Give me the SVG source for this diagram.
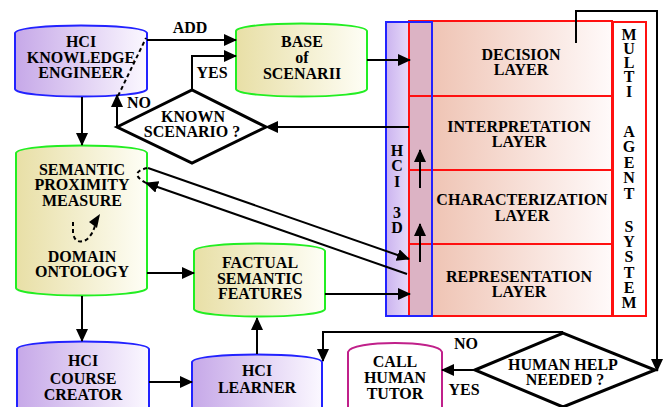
<svg xmlns="http://www.w3.org/2000/svg" width="667" height="407" viewBox="0 0 667 407">
<defs>
<linearGradient id="gP" x1="0" y1="0" x2="1" y2="0"><stop offset="0" stop-color="#c6a8e8"/><stop offset="1" stop-color="#fbf8ff"/></linearGradient>
<linearGradient id="gY" x1="0" y1="0" x2="1" y2="0"><stop offset="0" stop-color="#e8dfa6"/><stop offset="1" stop-color="#fefef6"/></linearGradient>
<linearGradient id="gL" x1="0" y1="0" x2="1" y2="0"><stop offset="0" stop-color="#efc4b4"/><stop offset="1" stop-color="#fffafa"/></linearGradient>
<linearGradient id="gH" x1="0" y1="0" x2="1" y2="0"><stop offset="0" stop-color="#cbb3ef"/><stop offset="1" stop-color="#e6daf9"/></linearGradient>
<marker id="ah" markerUnits="userSpaceOnUse" markerWidth="13" markerHeight="12" refX="12" refY="6" orient="auto"><path d="M0,0 L13,6 L0,12 Z" fill="#000"/></marker>
</defs>
<style>
.t{font-family:"Liberation Serif","Times New Roman",serif;font-weight:bold;font-size:16px;text-anchor:middle;fill:#000}
.c{stroke:#000;stroke-width:2;fill:none}
.a{marker-end:url(#ah)}
.d{stroke-dasharray:4,3}
.bl{stroke:#2222ff;stroke-width:2;fill:url(#gP)}
.gr{stroke:#22ee22;stroke-width:2;fill:url(#gY)}
.dm{stroke:#000;stroke-width:3;fill:#fff;stroke-linejoin:miter}
</style>
<rect width="667" height="407" fill="#fff"/>

<g id="hci3d">
<rect x="386" y="22" width="23" height="294" fill="url(#gH)"/>
<rect x="409" y="22" width="23" height="294" fill="#dcb3c4"/>
</g>
<g id="layers">
<rect x="432" y="21" width="180" height="295" fill="url(#gL)"/>
<rect x="409" y="21" width="203" height="295" fill="none" stroke="#ff1010" stroke-width="2"/>
<path d="M409,96 H612 M409,170 H612 M409,244 H612" stroke="#ff1010" stroke-width="2"/>
<text class="t" x="521" y="60">DECISION</text><text class="t" x="521" y="75">LAYER</text>
<text class="t" x="519" y="132">INTERPRETATION</text><text class="t" x="519" y="147">LAYER</text>
<text class="t" x="522" y="205">CHARACTERIZATION</text><text class="t" x="522" y="221">LAYER</text>
<text class="t" x="519" y="282">REPRESENTATION</text><text class="t" x="519" y="297">LAYER</text>
</g>
<g id="hci3d-frame">
<rect x="386" y="22" width="46" height="294" fill="none" stroke="#2222ff" stroke-width="2"/>
<text class="t" x="397"><tspan x="397" y="156">H</tspan><tspan x="397" y="171">C</tspan><tspan x="397" y="187">I</tspan><tspan x="397" y="218">3</tspan><tspan x="397" y="233">D</tspan></text>
</g>
<g id="mas">
<rect x="613" y="22" width="33" height="294" fill="#fff" stroke="#ff1010" stroke-width="2"/>
<text class="t"><tspan x="629" y="40">M</tspan><tspan x="629" y="54">U</tspan><tspan x="629" y="68">L</tspan><tspan x="629" y="82">T</tspan><tspan x="629" y="97">I</tspan><tspan x="629" y="137">A</tspan><tspan x="629" y="152">G</tspan><tspan x="629" y="168">E</tspan><tspan x="629" y="183">N</tspan><tspan x="629" y="199">T</tspan><tspan x="629" y="232">S</tspan><tspan x="629" y="247">Y</tspan><tspan x="629" y="262">S</tspan><tspan x="629" y="278">T</tspan><tspan x="629" y="293">E</tspan><tspan x="629" y="308">M</tspan></text>
</g>

<g id="ke">
<path class="bl" d="M15,33 C17,23 145,23 147,33 L147,89 C145,99 17,99 15,89 Z"/>
<text class="t" x="81" y="47">HCI</text><text class="t" x="81" y="63">KNOWLEDGE</text><text class="t" x="81" y="78">ENGINEER</text>
</g>
<g id="base">
<path class="gr" d="M236,31 C238,21 365,21 367,31 L367,89 C365,99 238,99 236,89 Z"/>
<text class="t" x="302" y="47">BASE</text><text class="t" x="302" y="63">of</text><text class="t" x="302" y="79">SCENARII</text>
</g>
<g id="known">
<polygon class="dm" points="117,127 192,90 266,127 192,163"/>
<text class="t" x="193" y="122">KNOWN</text><text class="t" x="192" y="137">SCENARIO ?</text>
</g>
<g id="semantic">
<path class="gr" d="M16,153 C18,143 145,143 147,153 L147,288 C145,298 18,298 16,288 Z"/>
<text class="t" x="82" y="175">SEMANTIC</text><text class="t" x="82" y="190">PROXIMITY</text><text class="t" x="82" y="206">MEASURE</text>
<text class="t" x="82" y="262">DOMAIN</text><text class="t" x="82" y="277">ONTOLOGY</text>
</g>
<g id="factual">
<path class="gr" d="M194,251 C196,241 323,241 325,251 L325,309 C323,319 196,319 194,309 Z"/>
<text class="t" x="260" y="268">FACTUAL</text><text class="t" x="260" y="284">SEMANTIC</text><text class="t" x="260" y="299">FEATURES</text>
</g>
<g id="course">
<path class="bl" d="M17,349 C19,339 147,339 149,349 L149,423 C147,433 19,433 17,423 Z"/>
<text class="t" x="83" y="366">HCI</text><text class="t" x="83" y="384">COURSE</text><text class="t" x="83" y="400">CREATOR</text>
</g>
<g id="learner">
<path class="bl" d="M192,362 C194,352 320,352 322,362 L322,426 C320,436 194,436 192,426 Z" stroke-width="1.5"/>
<text class="t" x="257" y="376">HCI</text><text class="t" x="257" y="393">LEARNER</text>
</g>
<g id="tutor">
<path d="M348,352 C350,340 440,340 442,352 L442,420 C440,430 350,430 348,420 Z" fill="#fff" stroke="#c0208a" stroke-width="2"/>
<text class="t" x="395" y="367">CALL</text><text class="t" x="395" y="383">HUMAN</text><text class="t" x="395" y="399">TUTOR</text>
</g>
<g id="help">
<polygon class="dm" points="475,370 563,333 655,370 563,407"/>
<text class="t" x="563" y="370">HUMAN HELP</text><text class="t" x="565" y="385">NEEDED ?</text>
</g>

<g id="connectors">
<path class="c a" d="M147,40 H236"/>
<text class="t" x="190" y="33">ADD</text>
<path class="c a" d="M192,90 V56 H236"/>
<text class="t" x="212" y="78">YES</text>
<path class="c a" d="M117,127 V95"/>
<path class="c d" d="M118,96 L146,38"/>
<text class="t" x="139" y="108">NO</text>
<path class="c a" d="M82,97 V145"/>
<path class="c a" d="M367,60 H410"/>
<path class="c a" d="M409,127 H266"/>
<path class="c a" d="M576,43 V11 H657 V371"/>
<path class="c a" d="M420,188 V150"/>
<path class="c a" d="M420,262 V224"/>
<path class="c a" d="M148,168 L409,259"/>
<path class="c a" d="M407,274 L146,183"/>
<path class="c d" d="M147,168 Q128,173 146,183" stroke-width="1.5"/>
<path class="c d" d="M73,222 V233 Q75,245 86,240 Q93,235 96,222" stroke-width="1.5"/>
<path d="M100,214 L89,222 L97,228 Z" fill="#000"/>
<path class="c a" d="M147,273 H194"/>
<path class="c a" d="M325,294 H410"/>
<path class="c a" d="M82,296 V341"/>
<path class="c a" d="M149,382 H192"/>
<path class="c a" d="M257,354 V318"/>
<path class="c a" d="M563,332 H323 V361"/>
<text class="t" x="466" y="349">NO</text>
<path class="c a" d="M475,370 H442"/>
<text class="t" x="464" y="395">YES</text>
</g>
</svg>
